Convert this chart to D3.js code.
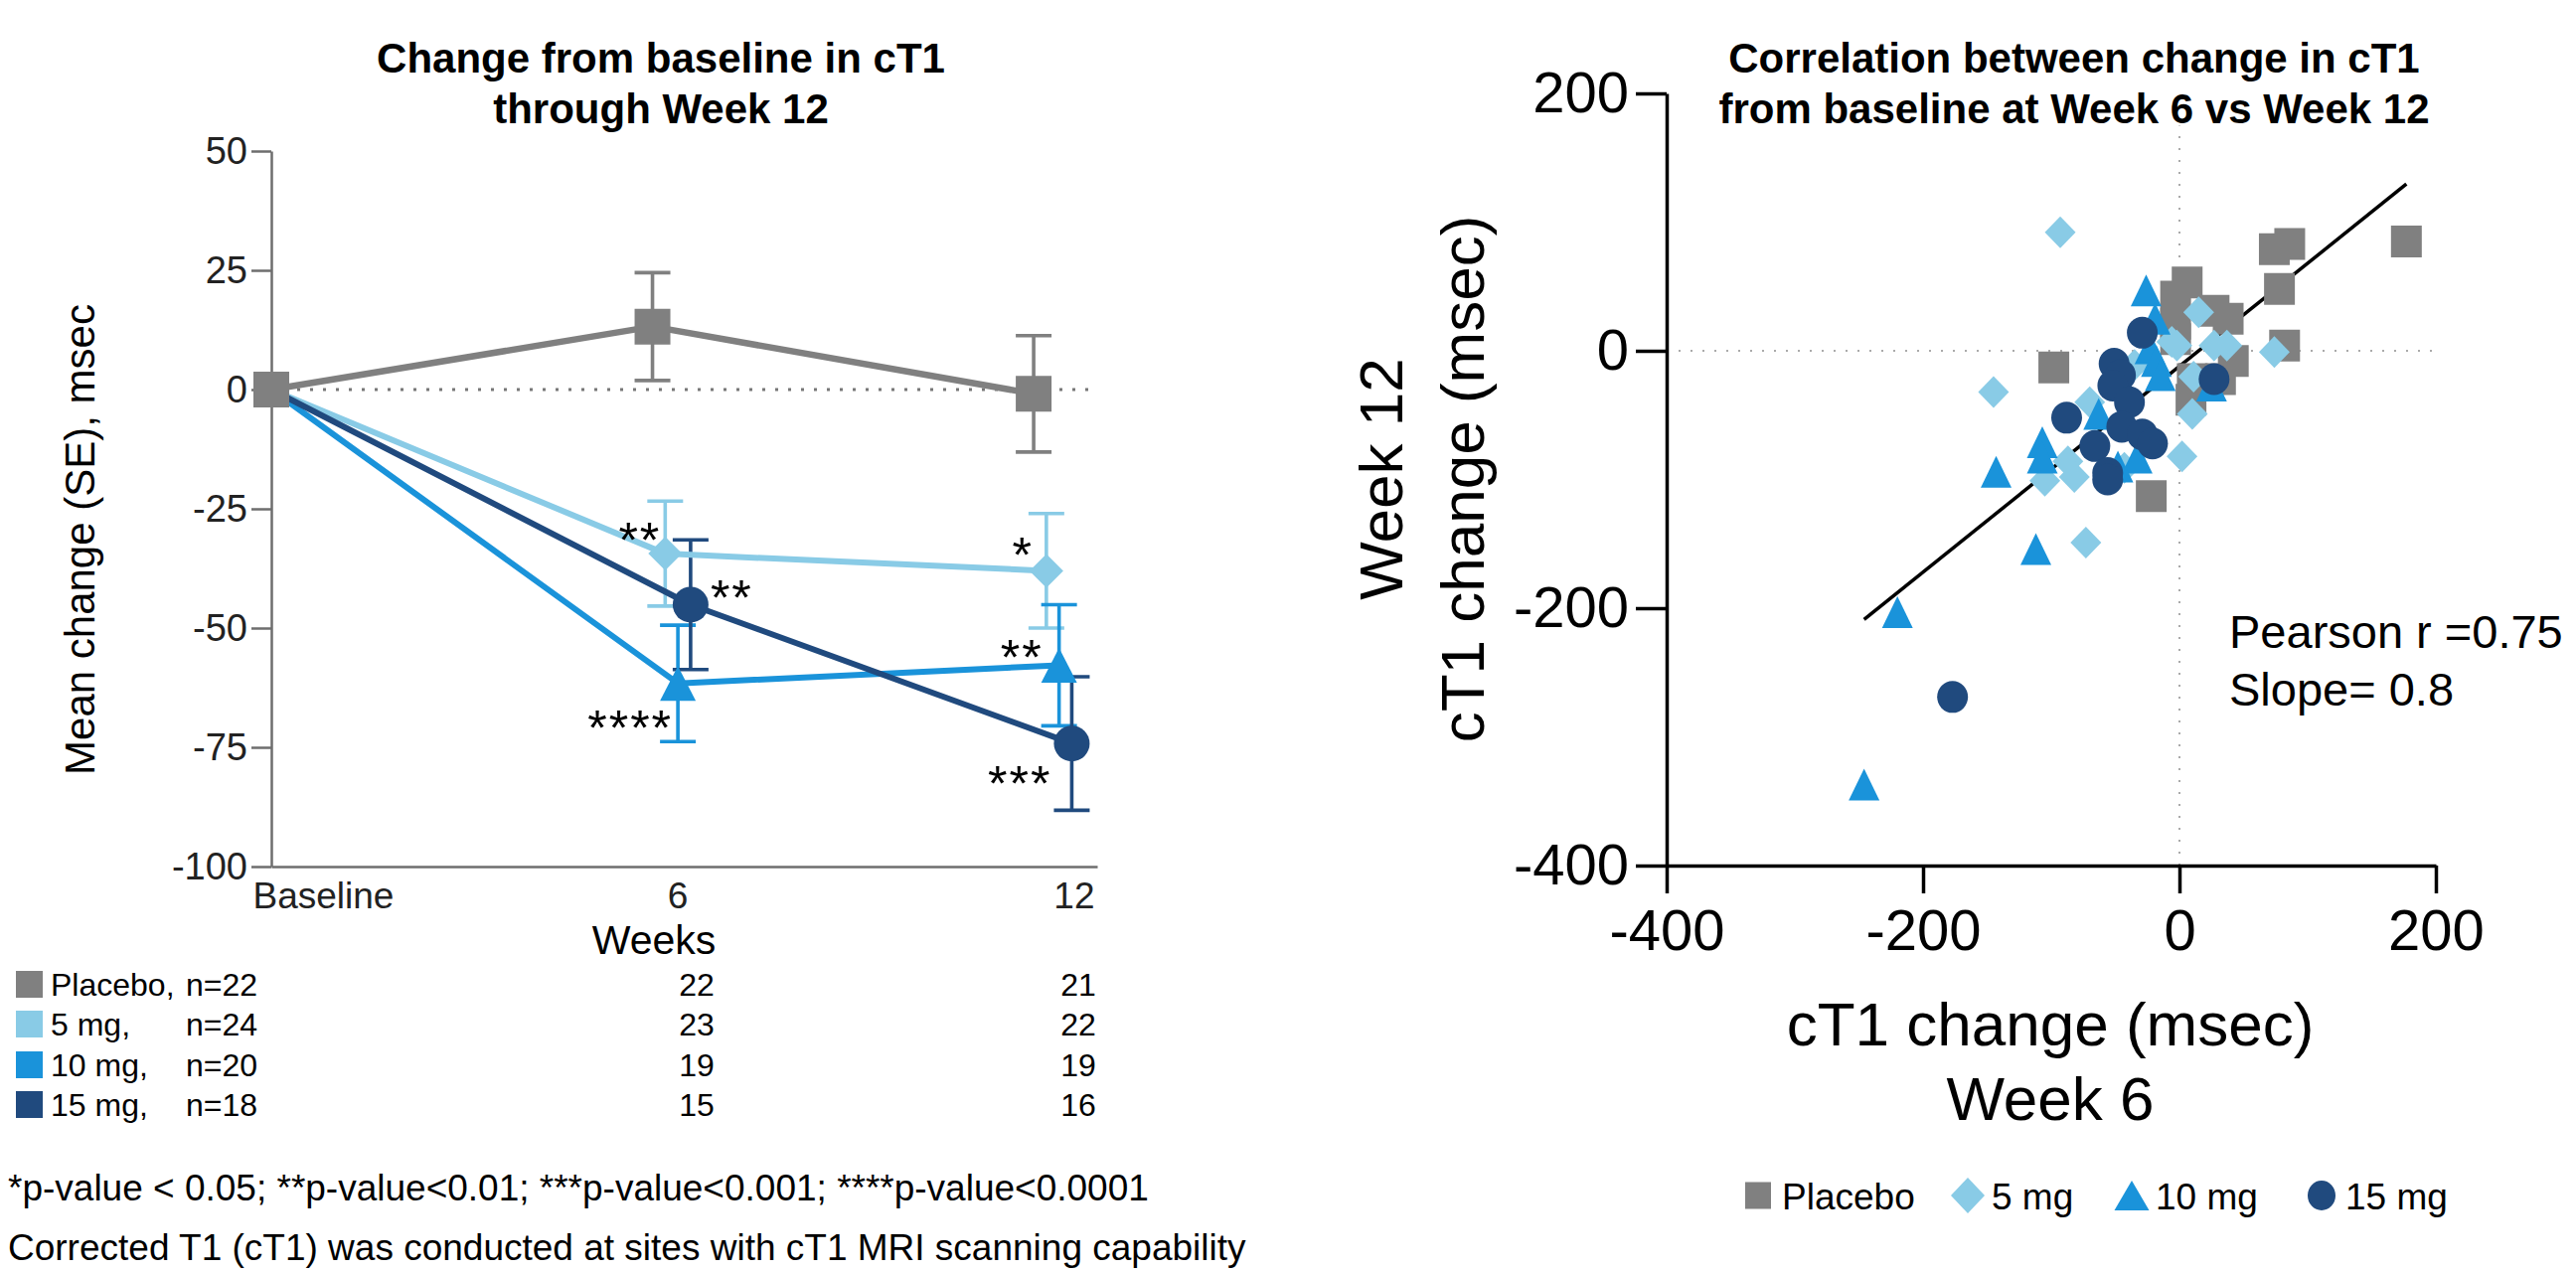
<!DOCTYPE html>
<html>
<head>
<meta charset="utf-8">
<script src="https://cdn.jsdelivr.net/npm/d3@7"></script>
<style>
  body { margin: 0; background: #fff; }
  text { font-family: "Liberation Sans", Arial, Helvetica, sans-serif; }
</style>
</head>
<body>
<svg id="chart" width="2592" height="1280"></svg>
<script>
// ---- data ----
let groups = ["Placebo", "5 mg", "10 mg", "15 mg"];
let colors = ["#808080", "#89cbe6", "#1a93da", "#204a7e"];
let shapes = ["square", "diamond", "triangle", "circle"];

let weeks = [0, 6, 12];
let weekLabels = ["Baseline", "6", "12"];
let yTicksLeft = [-100, -75, -50, -25, 0, 25, 50];

let meanPlacebo = [0, 13.2, -0.9];
let mean5 = [0, -34.4, -38.0];
let mean10 = [0, -61.6, -57.8];
let mean15 = [0, -45.1, -74.2];
let sePlacebo = [0, 11.3, 12.2];
let se5 = [0, 11.0, 12.0];
let se10 = [0, 12.2, 12.7];
let se15 = [0, 13.6, 14.0];
let sigPlacebo = ["", "", ""];
let sig5 = ["", "**", "*"];
let sig10 = ["", "****", "**"];
let sig15 = ["", "**", "***"];

let nBaseline = [22, 24, 20, 18];
let nWeek6 = [22, 23, 19, 15];
let nWeek12 = [21, 22, 19, 16];

// week 6 change (x) vs week 12 change (y)
let scatterPlacebo = [[177, 85], [86, 83], [74, 79], [78, 48], [82, 4], [6, 53], [-3, 42], [-3, 21],
  [27, 31], [38, 25], [42, -8], [32, -22], [10, -22], [9, -38], [-3, 9], [-98, -13], [-22, -113]];
let scatter5 = [[-93, 92], [15, 30], [-2, 4], [-6, 7], [27, 4], [37, 4], [74, -1], [11, -20], [10, -49],
  [2, -82], [-145, -32], [-70, -40], [-35, -11], [-87, -86], [-82, -98], [-105, -101], [-43, -91], [-73, -149]];
let scatter10 = [[-26, 47], [-19, 25], [-23, 2], [-18, -8], [-15, -19], [25, -27], [-143, -94], [-107, -71],
  [-107, -83], [-63, -49], [-33, -83], [-48, -90], [-112, -154], [-220, -203], [-246, -337]];
let scatter15 = [[-29, 14], [27, -22], [-51, -10], [-46, -19], [-52, -27], [-39, -40], [-88, -52], [-45, -59],
  [-29, -65], [-21, -72], [-66, -74], [-56, -95], [-56, -100], [-177, -269]];
let rTicks = [-400, -200, 0, 200];
let slope = 0.8;
let intercept = -12;
let pearsonR = 0.75;

let means = [meanPlacebo, mean5, mean10, mean15];
let ses = [sePlacebo, se5, se10, se15];
let sigs = [sigPlacebo, sig5, sig10, sig15];
let scatters = [scatterPlacebo, scatter5, scatter10, scatter15];

// plain hyphen for negatives, like the original
let plainNum = function(d) { return String(d); };

// marker outline centred on 0,0
function shapePath(kind, w, h) {
    let a = w / 2, b = h / 2;
    if (kind == "square") return "M" + (-a) + "," + (-b) + "H" + a + "V" + b + "H" + (-a) + "Z";
    if (kind == "diamond") return "M0," + (-b) + "L" + a + ",0L0," + b + "L" + (-a) + ",0Z";
    if (kind == "triangle") return "M0," + (-b) + "L" + a + "," + b + "L" + (-a) + "," + b + "Z";
    return "M" + (-a) + ",0A" + a + "," + b + " 0 1,0 " + a + ",0A" + a + "," + b + " 0 1,0 " + (-a) + ",0Z";
}

let svg = d3.select("#chart");
svg.append("rect").attr("width", 2592).attr("height", 1280).attr("fill", "white");

// ================= left chart =================
let xL = d3.scaleLinear().domain([0, 13]).range([273, 1104]);
let yL = d3.scaleLinear().domain([-100, 50]).range([872, 152]);
let dodge = [0, 0.2, 0.4, 0.6];
function px(i, j) {
    return weeks[j] == 0 ? xL(0) : xL(weeks[j] + dodge[i]);
}

let left = svg.append("g");

left.append("text").attr("x", 665).attr("y", 73).attr("text-anchor", "middle")
    .attr("font-size", 42).attr("font-weight", "bold").text("Change from baseline in cT1");
left.append("text").attr("x", 665).attr("y", 124).attr("text-anchor", "middle")
    .attr("font-size", 42).attr("font-weight", "bold").text("through Week 12");

left.append("line")
    .attr("x1", xL(0)).attr("x2", xL(13))
    .attr("y1", yL(0)).attr("y2", yL(0))
    .attr("stroke", "#777").attr("stroke-width", 3)
    .attr("stroke-dasharray", "3,10");

let yAxisL = left.append("g")
    .attr("transform", "translate(" + xL(0) + ",0)")
    .call(d3.axisLeft(yL).tickValues(yTicksLeft).tickFormat(plainNum)
        .tickSize(20).tickPadding(4).tickSizeOuter(0));
yAxisL.selectAll("path, line").attr("stroke", "#6e6e6e").attr("stroke-width", 2.5);
yAxisL.selectAll("text").attr("font-size", 38).attr("fill", "#222")
    .attr("font-family", "'Liberation Sans', Arial, sans-serif");

let xAxisL = left.append("g")
    .attr("transform", "translate(0," + yL(-100) + ")")
    .call(d3.axisBottom(xL).tickValues(weeks).tickSize(0).tickPadding(16).tickSizeOuter(0)
        .tickFormat(function(d, i) { return weekLabels[i]; }));
xAxisL.select("path").attr("stroke", "#6e6e6e").attr("stroke-width", 2.5);
xAxisL.selectAll("text").attr("font-size", 37).attr("fill", "#222")
    .attr("font-family", "'Liberation Sans', Arial, sans-serif")
    .attr("text-anchor", function(d) { return d == 0 ? "start" : d == 12 ? "end" : "middle"; })
    .attr("dx", function(d) { return d == 0 ? -19 : d == 6 ? 25 : xL(13) - xL(12) - 3; });

left.append("text").attr("x", 658).attr("y", 960).attr("text-anchor", "middle")
    .attr("font-size", 41).text("Weeks");
left.append("text").attr("transform", "translate(95,543) rotate(-90)")
    .attr("text-anchor", "middle").attr("font-size", 42).text("Mean change (SE), msec");

// error bars
groups.forEach(function(g, i) {
    let eb = left.append("g").attr("stroke", colors[i]).attr("stroke-width", 3.6);
    weeks.forEach(function(w, j) {
        if (ses[i][j] == 0) return;
        let x = px(i, j);
        let lo = yL(means[i][j] - ses[i][j]), hi = yL(means[i][j] + ses[i][j]);
        eb.append("line").attr("x1", x).attr("x2", x).attr("y1", lo).attr("y2", hi);
        eb.append("line").attr("x1", x - 18).attr("x2", x + 18).attr("y1", lo).attr("y2", lo);
        eb.append("line").attr("x1", x - 18).attr("x2", x + 18).attr("y1", hi).attr("y2", hi);
    });
});

// lines
groups.forEach(function(g, i) {
    let line = d3.line()
        .x(function(d, j) { return px(i, j); })
        .y(function(d) { return yL(d); });
    left.append("path").datum(means[i])
        .attr("d", line).attr("fill", "none")
        .attr("stroke", colors[i]).attr("stroke-width", i == 0 ? 6.5 : 6)
        .attr("stroke-linejoin", "round");
});

// markers
let sizeL = { square: [36, 36], diamond: [34, 34], triangle: [36, 35], circle: [36, 36] };
groups.forEach(function(g, i) {
    left.selectAll(null).data(means[i]).enter().append("path")
        .attr("d", shapePath(shapes[i], sizeL[shapes[i]][0], sizeL[shapes[i]][1]))
        .attr("transform", function(d, j) { return "translate(" + px(i, j) + "," + yL(d) + ")"; })
        .attr("fill", colors[i]);
});
// baseline point shows the placebo square on top
left.append("path").attr("d", shapePath("square", 36, 36))
    .attr("transform", "translate(" + xL(0) + "," + yL(meanPlacebo[0]) + ")")
    .attr("fill", colors[0]);

// significance stars: [dx, dy, anchor] relative to the marker
let starPlace = [
    null,
    [[0, 0, ""], [-4, 4, "end"], [-13, 2, "end"]],
    [[0, 0, ""], [-5, 62, "end"], [-16, 10, "end"]],
    [[0, 0, ""], [20, 11, "start"], [-20, 58, "end"]]
];
groups.forEach(function(g, i) {
    sigs[i].forEach(function(s, j) {
        if (!s) return;
        let p = starPlace[i][j];
        left.append("text")
            .attr("x", px(i, j) + p[0]).attr("y", yL(means[i][j]) + p[1])
            .attr("text-anchor", p[2]).attr("font-size", 50).attr("letter-spacing", 2)
            .text(s);
    });
});

// n table
let rowY = [1002, 1042, 1083, 1123];
let table = left.append("g").attr("font-size", 32);
groups.forEach(function(g, i) {
    table.append("rect").attr("x", 16).attr("y", rowY[i] - 25).attr("width", 27).attr("height", 27)
        .attr("fill", colors[i]);
    table.append("text").attr("x", 51).attr("y", rowY[i]).attr("font-size", 32).text(g + ",");
    table.append("text").attr("x", 187).attr("y", rowY[i]).attr("font-size", 32).text("n=" + nBaseline[i]);
    table.append("text").attr("x", 701).attr("y", rowY[i]).attr("text-anchor", "middle")
        .attr("font-size", 32).text(nWeek6[i]);
    table.append("text").attr("x", 1085).attr("y", rowY[i]).attr("text-anchor", "middle")
        .attr("font-size", 32).text(nWeek12[i]);
});

left.append("text").attr("x", 8).attr("y", 1208).attr("font-size", 37)
    .text("*p-value < 0.05; **p-value<0.01; ***p-value<0.001; ****p-value<0.0001");
left.append("text").attr("x", 8).attr("y", 1268).attr("font-size", 37)
    .text("Corrected T1 (cT1) was conducted at sites with cT1 MRI scanning capability");

// ================= right chart =================
let xR = d3.scaleLinear().domain([-400, 200]).range([1677, 2451]);
let yR = d3.scaleLinear().domain([-400, 200]).range([871, 94]);

let right = svg.append("g");

right.append("text").attr("x", 2087).attr("y", 73).attr("text-anchor", "middle")
    .attr("font-size", 42).attr("font-weight", "bold").text("Correlation between change in cT1");
right.append("text").attr("x", 2087).attr("y", 124).attr("text-anchor", "middle")
    .attr("font-size", 42).attr("font-weight", "bold").text("from baseline at Week 6 vs Week 12");

right.append("line")
    .attr("x1", xR(-400)).attr("x2", xR(200)).attr("y1", yR(0)).attr("y2", yR(0))
    .attr("stroke", "#aaa").attr("stroke-width", 2).attr("stroke-dasharray", "2,10");
right.append("line")
    .attr("x1", xR(0)).attr("x2", xR(0)).attr("y1", yR(-400)).attr("y2", yR(175))
    .attr("stroke", "#aaa").attr("stroke-width", 2).attr("stroke-dasharray", "2,10");

let yAxisR = right.append("g")
    .attr("transform", "translate(" + xR(-400) + ",0)")
    .call(d3.axisLeft(yR).tickValues(rTicks).tickFormat(plainNum)
        .tickSize(31).tickPadding(7).tickSizeOuter(0));
let xAxisR = right.append("g")
    .attr("transform", "translate(0," + yR(-400) + ")")
    .call(d3.axisBottom(xR).tickValues(rTicks).tickFormat(plainNum)
        .tickSize(28).tickPadding(16).tickSizeOuter(0));
[yAxisR, xAxisR].forEach(function(ax) {
    ax.selectAll("path, line").attr("stroke", "#000").attr("stroke-width", 3.5);
    ax.selectAll("text").attr("font-size", 58).attr("fill", "#000")
        .attr("font-family", "'Liberation Sans', Arial, sans-serif");
});

right.append("text").attr("transform", "translate(1411,482) rotate(-90)")
    .attr("text-anchor", "middle").attr("font-size", 62).text("Week 12");
right.append("text").attr("transform", "translate(1493,482) rotate(-90)")
    .attr("text-anchor", "middle").attr("font-size", 62).text("cT1 change (msec)");
right.append("text").attr("x", 2063).attr("y", 1052).attr("text-anchor", "middle")
    .attr("font-size", 62).text("cT1 change (msec)");
right.append("text").attr("x", 2063).attr("y", 1127).attr("text-anchor", "middle")
    .attr("font-size", 62).text("Week 6");

// regression line over the range of x values
let allX = d3.merge(scatters).map(function(d) { return d[0]; });
let xExt = d3.extent(allX);
right.append("line")
    .attr("x1", xR(xExt[0])).attr("y1", yR(slope * xExt[0] + intercept))
    .attr("x2", xR(xExt[1])).attr("y2", yR(slope * xExt[1] + intercept))
    .attr("stroke", "#000").attr("stroke-width", 3.5);

groups.forEach(function(g, i) {
    right.selectAll(null).data(scatters[i]).enter().append("path")
        .attr("d", shapePath(shapes[i], 31, 32))
        .attr("transform", function(d) { return "translate(" + xR(d[0]) + "," + yR(d[1]) + ")"; })
        .attr("fill", colors[i]);
});

right.append("text").attr("x", 2243).attr("y", 652).attr("font-size", 47).text("Pearson r =" + pearsonR);
right.append("text").attr("x", 2243).attr("y", 710).attr("font-size", 47).text("Slope= " + slope);

// legend
let legX = [1769, 1980, 2145, 2336];
let legSize = [[26, 27], [34, 36], [35, 30], [28, 30]];
groups.forEach(function(g, i) {
    right.append("path").attr("d", shapePath(shapes[i], legSize[i][0], legSize[i][1]))
        .attr("transform", "translate(" + legX[i] + ",1203)")
        .attr("fill", colors[i]);
    right.append("text").attr("x", legX[i] + 24).attr("y", 1217).attr("font-size", 37).text(g);
});
</script>
</body>
</html>
